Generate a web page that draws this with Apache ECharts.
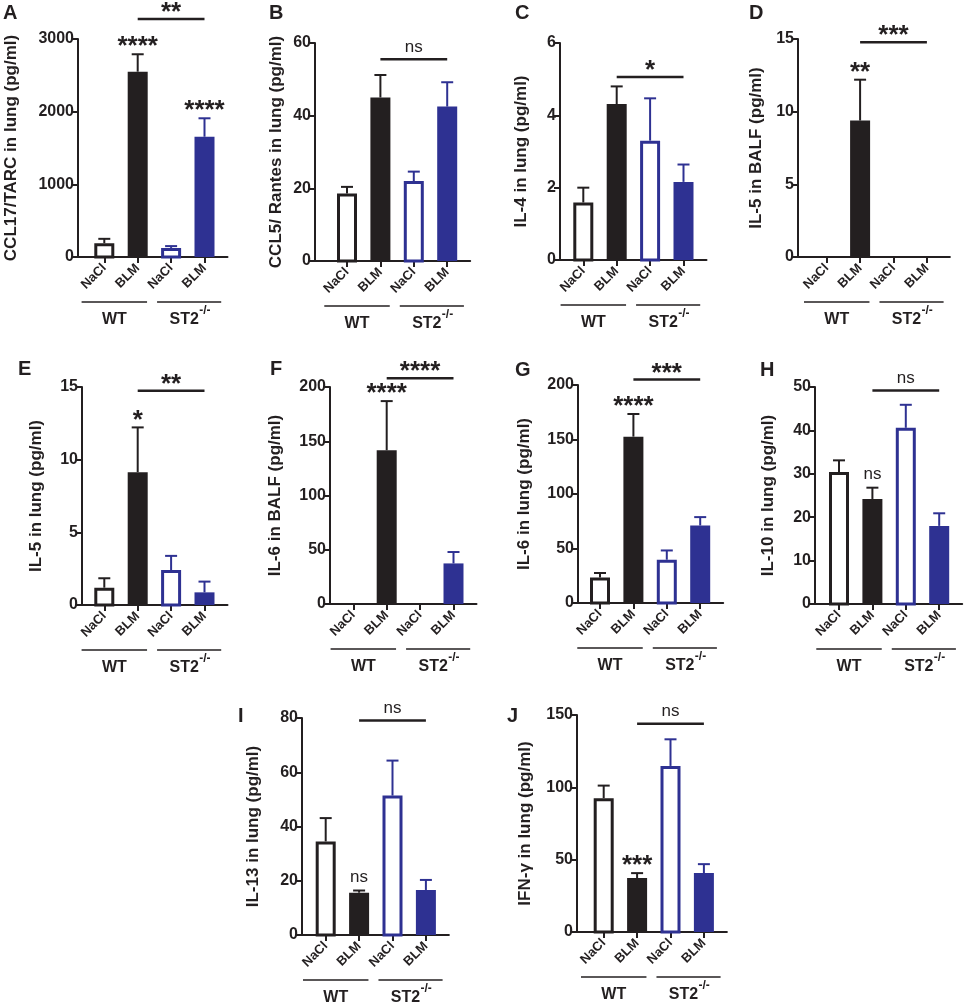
<!DOCTYPE html>
<html>
<head>
<meta charset="utf-8">
<script src="https://cdn.jsdelivr.net/npm/echarts@6/dist/echarts.min.js"></script>
<style>
  html, body { margin: 0; padding: 0; background: #fff; }
  #chart { width: 965px; height: 1005px; }
</style>
</head>
<body>
<div id="chart"></div>
<script>
const groups = ["NaCl", "BLM", "NaCl", "BLM"];
const strains = ["WT", "ST2"];

// mean and SEM per panel, order: WT NaCl, WT BLM, ST2 NaCl, ST2 BLM
const ccl17Mean = [190, 2550, 125, 1655];
const ccl17Sem = [60, 240, 25, 254];
const ccl5Mean = [18.6, 45.0, 22.0, 42.5];
const ccl5Sem = [1.8, 6.2, 2.6, 6.7];
const il4Mean = [1.59, 4.31, 3.3, 2.16];
const il4Sem = [0.41, 0.49, 1.17, 0.48];
const il5BalfMean = [0, 9.39, 0, 0];
const il5BalfSem = [0, 2.81, 0, 0];
const il5LungMean = [1.19, 9.14, 2.41, 0.87];
const il5LungSem = [0.65, 3.08, 0.97, 0.74];
const il6BalfMean = [0, 141.7, 0, 37.4];
const il6BalfSem = [0, 45.3, 0, 10.5];
const il6LungMean = [23.5, 152.6, 39.7, 71.1];
const il6LungSem = [4.0, 20.8, 8.5, 7.7];
const il10Mean = [30.4, 24.2, 40.6, 18.0];
const il10Sem = [2.7, 2.6, 5.3, 2.9];
const il13Mean = [34.5, 15.6, 51.4, 16.6];
const il13Sem = [8.6, 0.8, 12.9, 3.7];
const ifngMean = [92.5, 37.3, 114.8, 40.7];
const ifngSem = [8.7, 3.4, 18.4, 6.2];

const panelLetters = ["A", "B", "C", "D", "E", "F", "G", "H", "I", "J"];
const yTitles = [
  "CCL17/TARC in lung (pg/ml)", "CCL5/ Rantes in lung (pg/ml)", "IL-4 in lung (pg/ml)",
  "IL-5 in BALF (pg/ml)", "IL-5 in lung (pg/ml)", "IL-6 in BALF (pg/ml)",
  "IL-6 in lung (pg/ml)", "IL-10 in lung (pg/ml)", "IL-13 in lung (pg/ml)", "IFN-γ in lung (pg/ml)"
];
const yMax = [3000, 60, 6, 15, 15, 200, 200, 50, 80, 150];
const yStep = [1000, 20, 2, 5, 5, 50, 50, 10, 20, 50];

// stars above single bars (vs. WT NaCl)
const barStars = [
  ["", "****", "", "****"], ["", "", "", ""], ["", "", "", ""], ["", "**", "", ""],
  ["", "*", "", ""], ["", "****", "", ""], ["", "****", "", ""], ["", "ns", "", ""],
  ["", "ns", "", ""], ["", "***", "", ""]
];
// WT BLM vs ST2 BLM comparison bar
const cmpText = ["**", "ns", "*", "***", "**", "****", "***", "ns", "ns", "ns"];
const cmpLevel = [3275, 55.5, 5.06, 14.78, 14.74, 208, 205, 49.2, 79.1, 144];

const means = [ccl17Mean, ccl5Mean, il4Mean, il5BalfMean, il5LungMean, il6BalfMean, il6LungMean, il10Mean, il13Mean, ifngMean];
const sems = [ccl17Sem, ccl5Sem, il4Sem, il5BalfSem, il5LungSem, il6BalfSem, il6LungSem, il10Sem, il13Sem, ifngSem];

// panel placement in px: y-axis x, first bar centre, top of y range, zero line
const layout = [
  { ax: 78, c0: 104.3, top: 39, zero: 257, gap: 58, lx: 3, ly: 3 },
  { ax: 315, c0: 347, top: 43, zero: 261, gap: 30, lx: 269, ly: 3 },
  { ax: 560, c0: 583.3, top: 43, zero: 260, gap: 30, lx: 515, ly: 3 },
  { ax: 798, c0: 826.7, top: 39, zero: 257, gap: 33, lx: 749, ly: 3 },
  { ax: 82, c0: 104.3, top: 387, zero: 605, gap: 37, lx: 18, ly: 359 },
  { ax: 330, c0: 353.3, top: 387, zero: 604, gap: 46, lx: 270, ly: 359 },
  { ax: 578, c0: 600, top: 385, zero: 603, gap: 45, lx: 515, ly: 360 },
  { ax: 815, c0: 839, top: 387, zero: 604, gap: 38, lx: 760, ly: 360 },
  { ax: 302, c0: 325.7, top: 718, zero: 935, gap: 40, lx: 238, ly: 706 },
  { ax: 577, c0: 603.7, top: 715, zero: 932, gap: 43, lx: 507, ly: 706 }
];
const BAND = 33.4;

const BLACK = "#231f20";
const BLUE = "#2e3192";
const FONT = "'Liberation Sans', Arial, Helvetica, sans-serif";

function starStyle(text) {
  if (text === "ns") {
    return { fontSize: 17, fontWeight: "normal" };
  }
  return { fontSize: 26, fontWeight: "bold" };
}

function makeBarRenderer(p) {
  return function (params, api) {
    const i = api.value(0);
    const v = api.value(1);
    const e = api.value(2);
    const color = i < 2 ? BLACK : BLUE;
    const open = i % 2 === 0;
    const base = api.coord([i, 0]);
    const top = api.coord([i, v]);
    const errTop = api.coord([i, v + e]);
    const w = 20;
    const children = [];
    if (v > 0) {
      if (open) {
        children.push({
          type: "rect",
          shape: { x: base[0] - w / 2 + 1.5, y: top[1] + 1.5, width: w - 3, height: base[1] - top[1] - 1.5 },
          style: { fill: "#fff", stroke: color, lineWidth: 3 }
        });
      } else {
        children.push({
          type: "rect",
          shape: { x: base[0] - w / 2, y: top[1], width: w, height: base[1] - top[1] },
          style: { fill: color }
        });
      }
      children.push({
        type: "line",
        shape: { x1: base[0], y1: top[1], x2: base[0], y2: errTop[1] },
        style: { stroke: color, lineWidth: 2 }
      });
      children.push({
        type: "line",
        shape: { x1: base[0] - 6, y1: errTop[1], x2: base[0] + 6, y2: errTop[1] },
        style: { stroke: color, lineWidth: 2 }
      });
    }
    const star = barStars[p][i];
    if (star) {
      const st = starStyle(star);
      children.push({
        type: "text",
        style: {
          text: star, x: base[0], y: errTop[1] - (star === "ns" ? 5 : -6),
          align: "center", verticalAlign: "bottom",
          fontSize: st.fontSize, fontWeight: st.fontWeight, fontFamily: FONT, fill: BLACK
        }
      });
    }
    return { type: "group", children };
  };
}

function makeCmpRenderer(p) {
  return function (params, api) {
    const a = api.coord([api.value(0), api.value(2)]);
    const b = api.coord([api.value(1), api.value(2)]);
    const st = starStyle(cmpText[p]);
    return {
      type: "group",
      children: [
        { type: "line", shape: { x1: a[0], y1: a[1], x2: b[0], y2: a[1] }, style: { stroke: BLACK, lineWidth: 2.5 } },
        {
          type: "text",
          style: {
            text: cmpText[p], x: (a[0] + b[0]) / 2, y: a[1] - (cmpText[p] === "ns" ? 4 : -7),
            align: "center", verticalAlign: "bottom",
            fontSize: st.fontSize, fontWeight: st.fontWeight, fontFamily: FONT, fill: BLACK
          }
        }
      ]
    };
  };
}

function renderStrain(params, api) {
  const g = api.value(0);
  const bw = api.size([1, 0])[0];
  const first = api.coord([2 * g, 0]);
  const second = api.coord([2 * g + 1, 0]);
  const x1 = g === 0 ? first[0] - 0.68 * bw : first[0] - 0.42 * bw;
  const x2 = g === 0 ? second[0] + 0.28 * bw : second[0] + 0.5 * bw;
  const y = first[1] + 45;
  const cx = (x1 + x2) / 2;
  const children = [
    { type: "line", shape: { x1, y1: y, x2, y2: y }, style: { stroke: BLACK, lineWidth: 1.5 } }
  ];
  const labelStyle = { fontSize: 16, fontWeight: "bold", fontFamily: FONT, fill: BLACK, verticalAlign: "middle" };
  if (g === 0) {
    children.push({ type: "text", style: Object.assign({ text: strains[0], x: cx, y: y + 18, align: "center" }, labelStyle) });
  } else {
    children.push({ type: "text", style: Object.assign({ text: strains[1], x: cx - 5, y: y + 18, align: "center" }, labelStyle) });
    children.push({
      type: "text",
      style: { text: "-/-", x: cx + 10, y: y + 9, align: "left", verticalAlign: "middle", fontSize: 12, fontWeight: "bold", fontFamily: FONT, fill: BLACK }
    });
  }
  return { type: "group", children };
}

const grid = [];
const xAxis = [];
const yAxis = [];
const series = [];
const title = [];

layout.forEach((L, p) => {
  const height = L.zero - L.top;
  const lineRight = L.c0 + 3 * BAND + 23;
  const bandLeft = L.c0 - BAND / 2;
  const outer = grid.length;
  grid.push({ left: L.ax, top: L.top, width: lineRight - L.ax, height, outerBoundsMode: "none", containLabel: false });
  grid.push({ left: bandLeft, top: L.top, width: 4 * BAND, height, outerBoundsMode: "none", containLabel: false });

  xAxis.push({
    gridIndex: outer, type: "value", min: 0, max: 1,
    axisLine: { show: true, lineStyle: { color: BLACK, width: 2 } },
    axisTick: { show: false }, axisLabel: { show: false }, splitLine: { show: false }
  });
  xAxis.push({
    gridIndex: outer + 1, type: "category", data: groups,
    axisLine: { show: false },
    axisTick: { show: true, alignWithLabel: true, length: 6, lineStyle: { color: BLACK, width: 2 } },
    axisLabel: { rotate: 45, margin: 9, fontSize: 13, fontWeight: "bold", color: BLACK, fontFamily: FONT, interval: 0 },
    splitLine: { show: false }
  });
  yAxis.push({
    gridIndex: outer, type: "value", min: 0, max: yMax[p], interval: yStep[p],
    name: yTitles[p], nameLocation: "middle", nameGap: L.gap,
    nameTextStyle: { fontSize: 17, fontWeight: "bold", color: BLACK, fontFamily: FONT },
    axisLine: { show: true, lineStyle: { color: BLACK, width: 2 } },
    axisTick: { show: true, length: 6, lineStyle: { color: BLACK, width: 2 } },
    axisLabel: {
      fontSize: 16, fontWeight: "bold", color: BLACK, fontFamily: FONT, margin: 4,
      formatter: (v) => String(v)
    },
    splitLine: { show: false }
  });
  yAxis.push({ gridIndex: outer + 1, type: "value", min: 0, max: yMax[p], show: false, splitLine: { show: false } });

  const xi = outer + 1;
  series.push({
    type: "custom", xAxisIndex: xi, yAxisIndex: xi, clip: false, silent: true,
    renderItem: makeBarRenderer(p),
    data: means[p].map((m, i) => [i, m, sems[p][i]])
  });
  series.push({
    type: "custom", xAxisIndex: xi, yAxisIndex: xi, clip: false, silent: true,
    renderItem: makeCmpRenderer(p),
    data: [[1, 3, cmpLevel[p]]]
  });
  series.push({
    type: "custom", xAxisIndex: xi, yAxisIndex: xi, clip: false, silent: true,
    renderItem: renderStrain,
    data: [[0], [1]]
  });
  title.push({
    text: panelLetters[p], left: L.lx, top: L.ly, padding: 0,
    textStyle: { fontSize: 20, fontWeight: "bold", color: BLACK, fontFamily: FONT }
  });
});

const chart = echarts.init(document.getElementById("chart"), null, { renderer: "canvas" });
chart.setOption({
  animation: false,
  backgroundColor: "#fff",
  title,
  grid,
  xAxis,
  yAxis,
  series
});
</script>
</body>
</html>
